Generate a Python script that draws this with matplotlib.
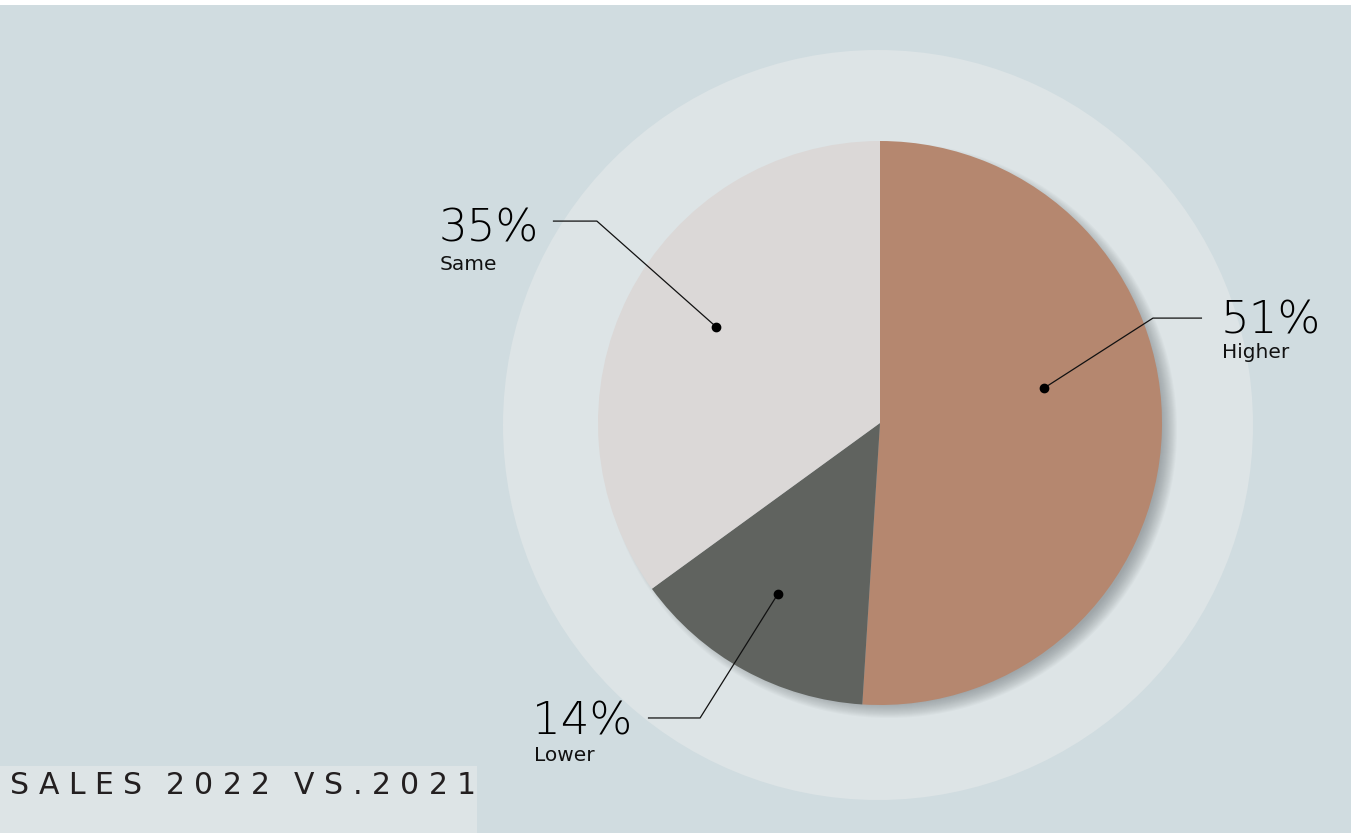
import matplotlib
matplotlib.use("Agg")
import matplotlib.pyplot as plt
from matplotlib.patches import Circle, Rectangle
import numpy as np

# ---- data ----
categories = ["Higher", "Lower", "Same"]
shares = [51, 14, 35]
slice_colors = ["#b5876f", "#60635f", "#dbd8d7"]
title_text = "SALES 2022 VS.2021"

# label layout (pie radius = 1): dot, elbow, line end, text x
label_layout = {
    "Same":   dict(dot=(-0.58, 0.34),  elbow=(-1.004, 0.716), end=(-1.16, 0.716),  tx=-1.567, pct_y=0.645, name_y=0.543),
    "Higher": dict(dot=(0.582, 0.124), elbow=(0.968, 0.372),  end=(1.142, 0.372),  tx=1.206,  pct_y=0.319, name_y=0.232),
    "Lower":  dict(dot=(-0.362, -0.606), elbow=(-0.638, -1.046), end=(-0.823, -1.046), tx=-1.234, pct_y=-1.106, name_y=-1.199),
}

BG = "#d0dce0"
RING = "#dde4e6"
W, H = 1351, 833
DPI = 100
PX = 282.0              # pixels per data unit (pie radius)
CX, CY = 880, 423       # pie centre in pixels from top-left

fig = plt.figure(figsize=(W / DPI, H / DPI), dpi=DPI, facecolor=BG)
ax = fig.add_axes([0, 0, 1, 1])
ax.set_facecolor(BG)

# backdrop disc
ax.add_patch(Circle((-2 / PX, -2 / PX), 375 / PX, color=RING, zorder=1, lw=0))

# soft drop shadow under the pie, cast towards the lower right
n_layers = 16
for k in range(n_layers):
    r = 1.0 + (6 - k) / PX
    ax.add_patch(Circle((9 / PX, -7 / PX), r, color="#6f767a", alpha=0.045, lw=0, zorder=2))

wedges, _ = ax.pie(shares, colors=slice_colors, startangle=90, counterclock=False,
                   radius=1.0, center=(0, 0), wedgeprops=dict(linewidth=0))
for w in wedges:
    w.set_zorder(3)

# leader lines and labels
for cat, val in zip(categories, shares):
    L = label_layout[cat]
    xs = [L["dot"][0], L["elbow"][0], L["end"][0]]
    ys = [L["dot"][1], L["elbow"][1], L["end"][1]]
    ax.plot(xs, ys, color="#111111", lw=0.9, zorder=5, solid_capstyle="butt")
    ax.plot(*L["dot"], marker="o", ms=6, color="#000000", zorder=6)
    ax.text(L["tx"], L["pct_y"], f"{val}%", fontsize=32.5, family="DejaVu Sans", weight="light",
            color="#000000", ha="left", va="baseline", zorder=6)
    ax.text(L["tx"] + 0.006, L["name_y"], cat, fontsize=14.5, family="DejaVu Sans",
            color="#111111", ha="left", va="baseline", zorder=6)

ax.set_xlim(-CX / PX, (W - CX) / PX)
ax.set_ylim(-(H - CY) / PX, CY / PX)
ax.set_aspect("auto")
ax.axis("off")

# white strip along the top edge and title panel
fig.patches.append(Rectangle((0, 1 - 5 / H), 1, 5 / H, transform=fig.transFigure,
                             color="white", lw=0, zorder=0))
fig.patches.append(Rectangle((0, 0), 477 / W, 67 / H, transform=fig.transFigure,
                             color=RING, lw=0, zorder=10))

# letter-spaced title
renderer = fig.canvas.get_renderer()
texts, widths = [], []
for c in title_text:
    if c == " ":
        texts.append(None)
        widths.append(5.0)
        continue
    t = fig.text(0, 0, c, fontsize=21.5, family="DejaVu Sans", weight="medium",
                 color="#231f20", ha="left", va="baseline", zorder=11)
    texts.append(t)
    widths.append(t.get_window_extent(renderer).width)
x0, x1 = 10.0, 476.0
track = ((x1 - x0) - sum(widths)) / (len(title_text) - 1)
x = x0
baseline = H - 794
for t, w in zip(texts, widths):
    if t is not None:
        t.set_position((x / W, baseline / H))
    x += w + track

fig.savefig("out.png", dpi=DPI, facecolor=BG)
